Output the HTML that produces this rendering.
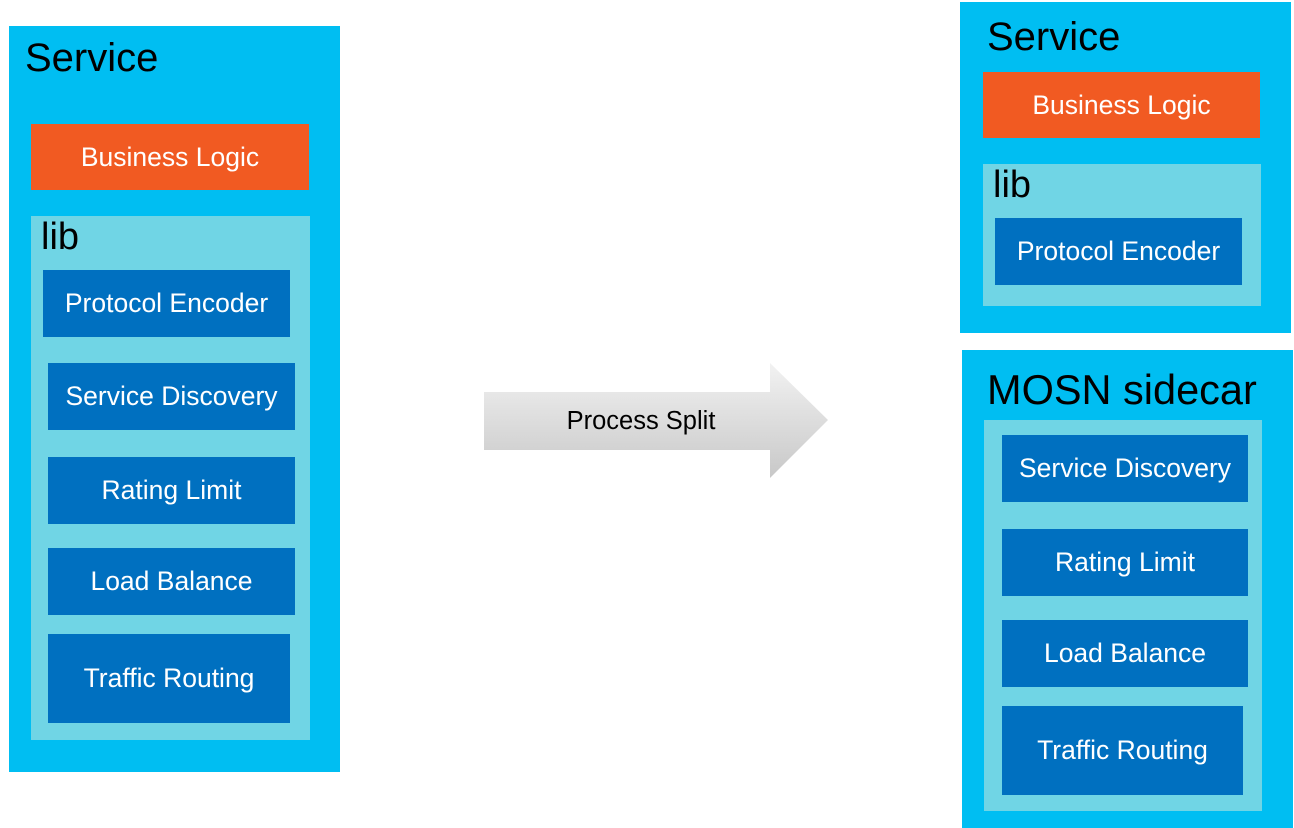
<!DOCTYPE html>
<html><head><style>
body{margin:0;width:1294px;height:828px;background:#fff;position:relative;overflow:hidden;font-family:"Segoe UI","Liberation Sans",sans-serif}
div{position:absolute;box-sizing:border-box}
.svc{background:#00BEF2}
.lib{background:#70D5E5}
.bl{background:#F15A22;color:#fff;font-size:26.5px;display:flex;align-items:center;justify-content:center}
.bx{background:#0070C0;color:#fff;font-size:26.5px;display:flex;align-items:center;justify-content:center}
.t{font-size:40px;color:#000;line-height:1}
.l{font-size:38px;color:#000;line-height:1}
</style></head><body>
<div class="svc" style="left:9px;top:26px;width:331px;height:746px"></div>
<div class="t" style="left:25px;top:38px">Service</div>
<div class="bl" style="left:31px;top:124px;width:278px;height:66px">Business Logic</div>
<div class="lib" style="left:31px;top:216px;width:279px;height:524px"></div>
<div class="l" style="left:41px;top:218px">lib</div>
<div class="bx" style="left:43px;top:270px;width:247px;height:67px">Protocol Encoder</div>
<div class="bx" style="left:48px;top:363px;width:247px;height:67px">Service Discovery</div>
<div class="bx" style="left:48px;top:457px;width:247px;height:67px">Rating Limit</div>
<div class="bx" style="left:48px;top:548px;width:247px;height:67px">Load Balance</div>
<div class="bx" style="left:48px;top:634px;width:242px;height:89px">Traffic Routing</div>

<svg style="position:absolute;left:0;top:0" width="1294" height="828">
<defs><linearGradient id="g" x1="0" y1="0" x2="0" y2="1"><stop offset="0" stop-color="#f2f2f2"/><stop offset="1" stop-color="#c8c8c8"/></linearGradient></defs>
<polygon points="484,392 770,392 770,363 828,420 770,478 770,450 484,450" fill="url(#g)"/>
<text x="641" y="429" font-size="25.5" text-anchor="middle" font-family="Segoe UI,Liberation Sans,sans-serif" fill="#000">Process Split</text>
</svg>

<div class="svc" style="left:960px;top:2px;width:331px;height:331px"></div>
<div class="t" style="left:987px;top:17px">Service</div>
<div class="bl" style="left:983px;top:72px;width:277px;height:66px">Business Logic</div>
<div class="lib" style="left:983px;top:164px;width:278px;height:142px"></div>
<div class="l" style="left:993px;top:166px">lib</div>
<div class="bx" style="left:995px;top:218px;width:247px;height:67px">Protocol Encoder</div>

<div class="svc" style="left:962px;top:350px;width:331px;height:478px"></div>
<div class="t" style="left:987px;top:369px;font-size:41.5px">MOSN sidecar</div>
<div class="lib" style="left:984px;top:420px;width:278px;height:391px"></div>
<div class="bx" style="left:1002px;top:435px;width:246px;height:67px">Service Discovery</div>
<div class="bx" style="left:1002px;top:529px;width:246px;height:67px">Rating Limit</div>
<div class="bx" style="left:1002px;top:620px;width:246px;height:67px">Load Balance</div>
<div class="bx" style="left:1002px;top:706px;width:241px;height:89px">Traffic Routing</div>
</body></html>
